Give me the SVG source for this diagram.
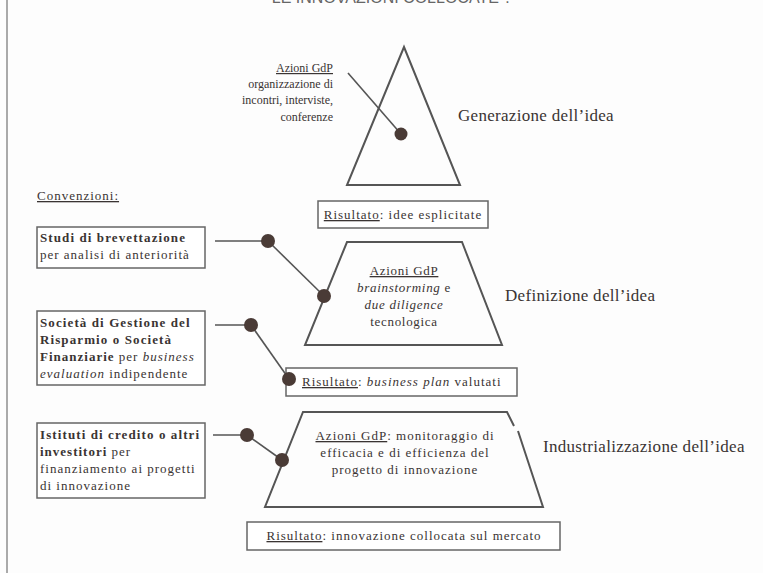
<svg xmlns="http://www.w3.org/2000/svg" width="763" height="573" viewBox="0 0 763 573">
<style>
text{font-family:"Liberation Serif","Times New Roman",serif;fill:#3a3433}
.t{font-size:12px}
.s{font-size:13px;letter-spacing:1px}
.c{font-size:13px;letter-spacing:0.7px}
.m{font-size:13px;letter-spacing:1.1px}
.l{font-size:17px;letter-spacing:0.3px}
.b{font-weight:bold}
.i{font-style:italic}
.u{text-decoration:underline}
.shape{fill:none;stroke:#555;stroke-width:2}
.box{fill:#fff;stroke:#666;stroke-width:1.5}
.con{stroke:#555;stroke-width:1.6;fill:none}
.dot{fill:#4a3b36}
</style>
<rect x="0" y="0" width="763" height="573" fill="#fdfdfd"/>
<line x1="7" y1="0" x2="7" y2="573" stroke="#aaa" stroke-width="2"/>
<text x="392" y="3" text-anchor="middle" style="font-size:16px;font-family:'Liberation Sans',Arial,sans-serif;fill:#666">LE INNOVAZIONI COLLOCATE ?</text>

<g id="gen">
<polygon class="shape" points="404,47 460,185 347,185"/>
<text class="t" x="333" y="72" text-anchor="end"><tspan class="u">Azioni GdP</tspan></text>
<text class="t" x="333" y="88" text-anchor="end">organizzazione di</text>
<text class="t" x="333" y="104" text-anchor="end">incontri, interviste,</text>
<text class="t" x="333" y="121" text-anchor="end">conferenze</text>
<text class="l" x="458" y="121">Generazione dell’idea</text>
</g>
<g id="ris1">
<rect class="box" x="318" y="201" width="170" height="27"/>
<text class="s" x="403" y="219" text-anchor="middle"><tspan class="u">Risultato</tspan>: idee esplicitate</text>
</g>

<text class="s u" x="37" y="200">Convenzioni:</text>

<g id="conv1">
<rect class="box" x="37" y="227" width="168" height="41"/>
<text class="m b" x="40" y="242">Studi di brevettazione</text>
<text class="s" x="40" y="259">per analisi di anteriorità</text>
</g>

<g id="def">
<polygon class="shape" points="347,242 462,242 502,345 305,345"/>
<text class="c" x="404" y="275" text-anchor="middle"><tspan class="u">Azioni GdP</tspan></text>
<text class="c" x="404" y="292" text-anchor="middle"><tspan class="i">brainstorming</tspan> e</text>
<text class="c i" x="404" y="309" text-anchor="middle">due diligence</text>
<text class="c" x="404" y="326" text-anchor="middle">tecnologica</text>
<text class="l" x="505" y="301">Definizione dell’idea</text>
</g>

<g id="conv2">
<rect class="box" x="37" y="311" width="168" height="74"/>
<text class="m b" x="40" y="327">Società di Gestione del</text>
<text class="m b" x="40" y="344">Risparmio o Società</text>
<text class="s" x="40" y="361"><tspan class="b">Finanziarie</tspan> per <tspan class="i">business</tspan></text>
<text class="s" x="40" y="378"><tspan class="i">evaluation</tspan> indipendente</text>
</g>

<g id="ris2">
<rect class="box" x="286" y="368" width="231" height="28"/>
<text class="s" x="302" y="386"><tspan class="u">Risultato</tspan>: <tspan class="i">business plan</tspan> valutati</text>
</g>

<g id="conv3">
<rect class="box" x="37" y="423" width="168" height="75"/>
<text class="m b" x="40" y="439">Istituti di credito o altri</text>
<text class="s" x="40" y="456"><tspan class="b">investitori</tspan> per</text>
<text class="s" x="40" y="473">finanziamento ai progetti</text>
<text class="s" x="40" y="490">di innovazione</text>
</g>

<g id="ind">
<path class="shape" d="M514,426 L507,412 L303,412 L265,507 L543,507 L518,431"/>
<text class="s" x="405" y="440" text-anchor="middle"><tspan class="u">Azioni GdP</tspan>: monitoraggio di</text>
<text class="s" x="405" y="457" text-anchor="middle">efficacia e di efficienza del</text>
<text class="s" x="405" y="474" text-anchor="middle">progetto di innovazione</text>
<text class="l" x="543" y="452">Industrializzazione  dell’idea</text>
</g>

<g id="ris3">
<rect class="box" x="247" y="522" width="313" height="28"/>
<text class="s" x="404" y="540" text-anchor="middle"><tspan class="u">Risultato</tspan>: innovazione collocata sul mercato</text>
</g>

<g id="connectors">
<line class="con" x1="348" y1="73" x2="401" y2="134"/>
<line class="con" x1="215" y1="241" x2="268" y2="241"/>
<line class="con" x1="268" y1="241" x2="324" y2="296"/>
<line class="con" x1="215" y1="325" x2="251" y2="325"/>
<line class="con" x1="251" y1="325" x2="289" y2="379"/>
<line class="con" x1="213" y1="435" x2="247" y2="435"/>
<line class="con" x1="247" y1="435" x2="282" y2="460"/>
<circle class="dot" cx="401" cy="134" r="6.5"/>
<circle class="dot" cx="268" cy="241" r="7"/>
<circle class="dot" cx="324" cy="296" r="7"/>
<circle class="dot" cx="251" cy="325" r="7"/>
<circle class="dot" cx="289" cy="379" r="7"/>
<circle class="dot" cx="247" cy="435" r="7"/>
<circle class="dot" cx="282" cy="460" r="7"/>
</g>
</svg>
